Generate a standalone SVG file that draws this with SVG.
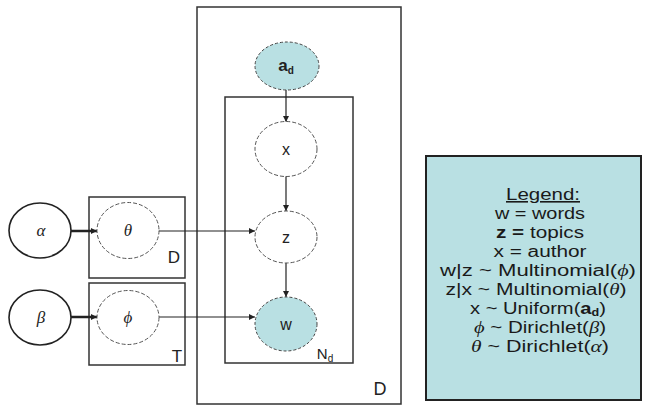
<svg xmlns="http://www.w3.org/2000/svg" width="652" height="406" viewBox="0 0 652 406">
<style>
  .plate{fill:none;stroke:#333;stroke-width:1.5}
  .obs{fill:#b9e0e3;stroke:#444;stroke-width:1;stroke-dasharray:3 2}
  .lat{fill:#fff;stroke:#555;stroke-width:1;stroke-dasharray:4 2}
  .hyp{fill:#fff;stroke:#222;stroke-width:1.6}
  .lbl{font-family:"Liberation Sans",Arial,sans-serif;fill:#222;text-anchor:middle}
  .gk{font-family:"Liberation Serif","Times New Roman",serif;font-style:italic;fill:#222;text-anchor:middle}
  .edge{stroke:#222;stroke-width:1.2;fill:none;marker-end:url(#ah)}
  .leg{font-family:"Liberation Sans",Arial,sans-serif;font-size:16px;fill:#1a1a1a;text-anchor:middle}
  .lg{font-family:"Liberation Serif","Times New Roman",serif;font-style:italic}
</style>
<defs>
  <marker id="ah" viewBox="0 0 10 10" refX="10" refY="5" markerWidth="6" markerHeight="6" orient="auto" markerUnits="userSpaceOnUse">
    <path d="M0,0 L10,5 L0,10 z" fill="#222"/>
  </marker>
</defs>
<rect width="652" height="406" fill="#fff"/>

<g id="plates">
  <rect id="plate-D-outer" class="plate" x="197" y="7" width="204" height="397"/>
  <rect id="plate-Nd" class="plate" x="225" y="97" width="128" height="266"/>
  <rect id="plate-D-theta" class="plate" x="89" y="197" width="96" height="81"/>
  <rect id="plate-T" class="plate" x="89" y="283" width="96" height="82"/>
  <text class="lbl" x="380" y="395" font-size="18">D</text>
  <text class="lbl" x="325" y="359" font-size="15">N<tspan font-size="10" dy="3">d</tspan></text>
  <text class="lbl" x="174" y="263" font-size="17">D</text>
  <text class="lbl" x="177" y="362" font-size="17">T</text>
</g>

<g id="connectors">
  <line class="edge" x1="71" y1="231" x2="97" y2="231" style="stroke-width:2.5"/>
  <line class="edge" x1="71" y1="317" x2="97" y2="317" style="stroke-width:2.5"/>
  <line class="edge" x1="159" y1="231" x2="255" y2="231"/>
  <line class="edge" x1="159" y1="317" x2="255" y2="317"/>
  <line class="edge" x1="286" y1="90" x2="286" y2="122"/>
  <line class="edge" x1="286" y1="176" x2="286" y2="211"/>
  <line class="edge" x1="286" y1="263" x2="286" y2="297"/>
</g>

<g id="node-alpha">
  <ellipse class="hyp" cx="40" cy="230.5" rx="31" ry="27.5"/>
  <text class="gk" x="41" y="236" font-size="17">α</text>
</g>
<g id="node-theta">
  <ellipse class="lat" cx="128" cy="230.5" rx="31" ry="28"/>
  <text class="gk" x="128" y="236" font-size="17">θ</text>
</g>
<g id="node-beta">
  <ellipse class="hyp" cx="40" cy="317.5" rx="31" ry="27.5"/>
  <text class="gk" x="41" y="323" font-size="17">β</text>
</g>
<g id="node-phi">
  <ellipse class="lat" cx="128" cy="317.5" rx="31" ry="27"/>
  <text class="gk" x="128" y="323" font-size="17">ϕ</text>
</g>
<g id="node-ad">
  <ellipse class="obs" cx="287" cy="66" rx="32" ry="24"/>
  <text class="lbl" x="286" y="71" font-size="17" font-weight="bold">a<tspan font-size="10" dy="3">d</tspan></text>
</g>
<g id="node-x">
  <ellipse class="lat" cx="286" cy="149" rx="31" ry="27.5"/>
  <text class="lbl" x="286" y="155" font-size="16">x</text>
</g>
<g id="node-z">
  <ellipse class="lat" cx="286" cy="237" rx="31" ry="26"/>
  <text class="lbl" x="286" y="243" font-size="16">z</text>
</g>
<g id="node-w">
  <ellipse class="obs" cx="286" cy="324" rx="31" ry="27"/>
  <text class="lbl" x="286" y="330" font-size="16">w</text>
</g>

<g id="legend">
  <rect x="426" y="156" width="215" height="244" fill="#b9e0e3" stroke="#222" stroke-width="2"/>
  <text class="leg" x="543" y="200" textLength="74" lengthAdjust="spacingAndGlyphs" text-decoration="underline">Legend:</text>
  <text class="leg" x="540" y="219" textLength="90" lengthAdjust="spacingAndGlyphs">w = words</text>
  <text class="leg" x="540" y="238" textLength="88" lengthAdjust="spacingAndGlyphs"><tspan font-weight="bold">z =</tspan> topics</text>
  <text class="leg" x="540" y="257" textLength="93" lengthAdjust="spacingAndGlyphs">x = author</text>
  <text class="leg" x="538" y="276" textLength="196" lengthAdjust="spacingAndGlyphs">w|z ~ Multinomial(<tspan class="lg">ϕ</tspan>)</text>
  <text class="leg" x="536" y="295" textLength="181" lengthAdjust="spacingAndGlyphs">z|x ~ Multinomial(<tspan class="lg">θ</tspan>)</text>
  <text class="leg" x="538" y="314" textLength="136" lengthAdjust="spacingAndGlyphs">x ~ Uniform(<tspan font-weight="bold">a<tspan font-size="10" dy="2">d</tspan></tspan><tspan dy="-2">)</tspan></text>
  <text class="leg" x="540" y="333" textLength="132" lengthAdjust="spacingAndGlyphs"><tspan class="lg">ϕ</tspan> ~ Dirichlet(<tspan class="lg">β</tspan>)</text>
  <text class="leg" x="540" y="352" textLength="138" lengthAdjust="spacingAndGlyphs"><tspan class="lg">θ</tspan> ~ Dirichlet(<tspan class="lg">α</tspan>)</text>
</g>
</svg>
